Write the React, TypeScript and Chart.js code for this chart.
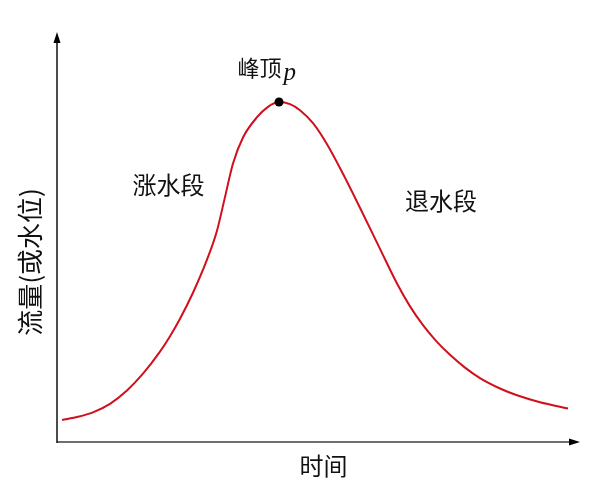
import React, { useEffect, useRef } from "react";
import { Chart, registerables } from "chart.js";

Chart.register(...registerables);

// Hydrograph: time (x) against discharge / stage (y), arbitrary units 0–100
const timeSteps = [0.96, 4.02, 6.88, 10.13, 13.38, 16.44, 19.69, 21.61, 23.52, 26.0, 28.68, 30.59, 32.12, 33.65, 35.56, 38.24, 40.34, 42.45, 44.55, 46.46, 48.95, 51.63, 54.68, 57.93, 61.76, 65.01, 67.5, 69.98, 72.47, 75.14, 78.01, 80.88, 84.7, 87.95, 92.35, 97.71];
const flowLevels = [5.11, 5.89, 6.98, 9.05, 12.29, 16.37, 21.73, 25.5, 29.76, 36.08, 44.11, 51.17, 59.34, 67.52, 73.84, 78.78, 81.31, 82.48, 81.95, 80.49, 77.32, 72.21, 65.01, 56.74, 46.76, 38.32, 32.75, 28.18, 24.38, 20.97, 17.86, 15.3, 12.77, 11.12, 9.44, 7.93];

const peakLabel = "峰顶";
const peakSymbol = "p";
const risingLabel = "涨水段";
const fallingLabel = "退水段";
const xTitle = "时间";
const yTitle = "流量(或水位)";

// Label anchors in data units
const labelAnchors = {
  peak: { x: 38.7, y: 90.8 },
  rising: { x: 21.3, y: 62.3 },
  falling: { x: 73.4, y: 58.5 },
};

const CJK = '"Noto Sans CJK SC", "Noto Sans", sans-serif';

const hydroDecor = {
  id: "hydroDecor",
  beforeDatasetsDraw(chart: any) {
    const { ctx, chartArea: a } = chart;
    ctx.save();
    // time axis
    ctx.strokeStyle = "#6e6e6e";
    ctx.lineWidth = 2;
    ctx.beginPath();
    ctx.moveTo(a.left, a.bottom + 1);
    ctx.lineTo(a.right - 8, a.bottom + 1);
    ctx.stroke();
    ctx.fillStyle = "#000";
    ctx.beginPath();
    ctx.moveTo(a.right, a.bottom + 1);
    ctx.lineTo(a.right - 11, a.bottom - 2.5);
    ctx.lineTo(a.right - 11, a.bottom + 4.5);
    ctx.closePath();
    ctx.fill();
    // flow axis
    ctx.strokeStyle = "#111";
    ctx.lineWidth = 1.5;
    ctx.beginPath();
    ctx.moveTo(a.left, a.bottom + 2);
    ctx.lineTo(a.left, a.top + 10);
    ctx.stroke();
    ctx.beginPath();
    ctx.moveTo(a.left, a.top + 2);
    ctx.lineTo(a.left - 3.5, a.top + 13);
    ctx.lineTo(a.left + 3.5, a.top + 13);
    ctx.closePath();
    ctx.fill();
    ctx.restore();
  },
  afterDraw(chart: any) {
    const { ctx, chartArea: a, scales } = chart;
    const px = (v: number) => scales.x.getPixelForValue(v);
    const py = (v: number) => scales.y.getPixelForValue(v);
    ctx.save();
    ctx.fillStyle = "#111";
    ctx.textAlign = "center";
    ctx.textBaseline = "middle";

    // peak label with italic symbol
    ctx.font = `22px ${CJK}`;
    const pkX = px(labelAnchors.peak.x);
    const pkY = py(labelAnchors.peak.y);
    const w1 = ctx.measureText(peakLabel).width;
    ctx.fillText(peakLabel, pkX, pkY);
    ctx.font = 'italic 25px "Liberation Serif", "DejaVu Serif", serif';
    ctx.textAlign = "left";
    ctx.textBaseline = "alphabetic";
    ctx.fillText(peakSymbol, pkX + w1 / 2 + 2, pkY + 12);

    ctx.textAlign = "center";
    ctx.textBaseline = "middle";
    ctx.font = `24px ${CJK}`;
    ctx.fillText(risingLabel, px(labelAnchors.rising.x), py(labelAnchors.rising.y));
    ctx.fillText(fallingLabel, px(labelAnchors.falling.x), py(labelAnchors.falling.y));

    // axis titles
    ctx.fillText(xTitle, (a.left + a.right) / 2 + 5, a.bottom + 25);
    ctx.save();
    ctx.font = `26px ${CJK}`;
    ctx.translate(a.left - 27, a.bottom - 179);
    ctx.rotate(-Math.PI / 2);
    ctx.fillText(yTitle, 0, 0);
    ctx.restore();
    ctx.restore();
  },
};

export default function App() {
  const canvasRef = useRef<HTMLCanvasElement | null>(null);

  useEffect(() => {
    const canvas = canvasRef.current;
    if (!canvas) return;
    const curve = timeSteps.map((t, i) => ({ x: t, y: flowLevels[i] }));
    const peakIdx = flowLevels.indexOf(Math.max(...flowLevels));
    const peak = [{ x: timeSteps[peakIdx], y: flowLevels[peakIdx] }];

    const chart = new Chart(canvas, {
      type: "line",
      data: {
        datasets: [
          {
            data: peak,
            pointRadius: 4.5,
            pointBackgroundColor: "#000",
            pointBorderWidth: 0,
            showLine: false,
          },
          {
            data: curve,
            borderColor: "#d0101c",
            borderWidth: 2,
            pointRadius: 0,
            cubicInterpolationMode: "monotone",
            fill: false,
          },
        ],
      },
      options: {
        animation: false,
        responsive: false,
        devicePixelRatio: 1,
        layout: { padding: { left: 57, right: 20, top: 30, bottom: 52 } },
        plugins: { legend: { display: false }, tooltip: { enabled: false } },
        scales: {
          x: { type: "linear", min: 0, max: 100, display: false },
          y: { type: "linear", min: 0, max: 100, display: false },
        },
      },
      plugins: [hydroDecor],
    });
    return () => chart.destroy();
  }, []);

  return (
    <div style={{ position: "absolute", left: 0, top: 0, width: 600, height: 493, background: "#fff" }}>
      <canvas ref={canvasRef} width={600} height={493} />
    </div>
  );
}
